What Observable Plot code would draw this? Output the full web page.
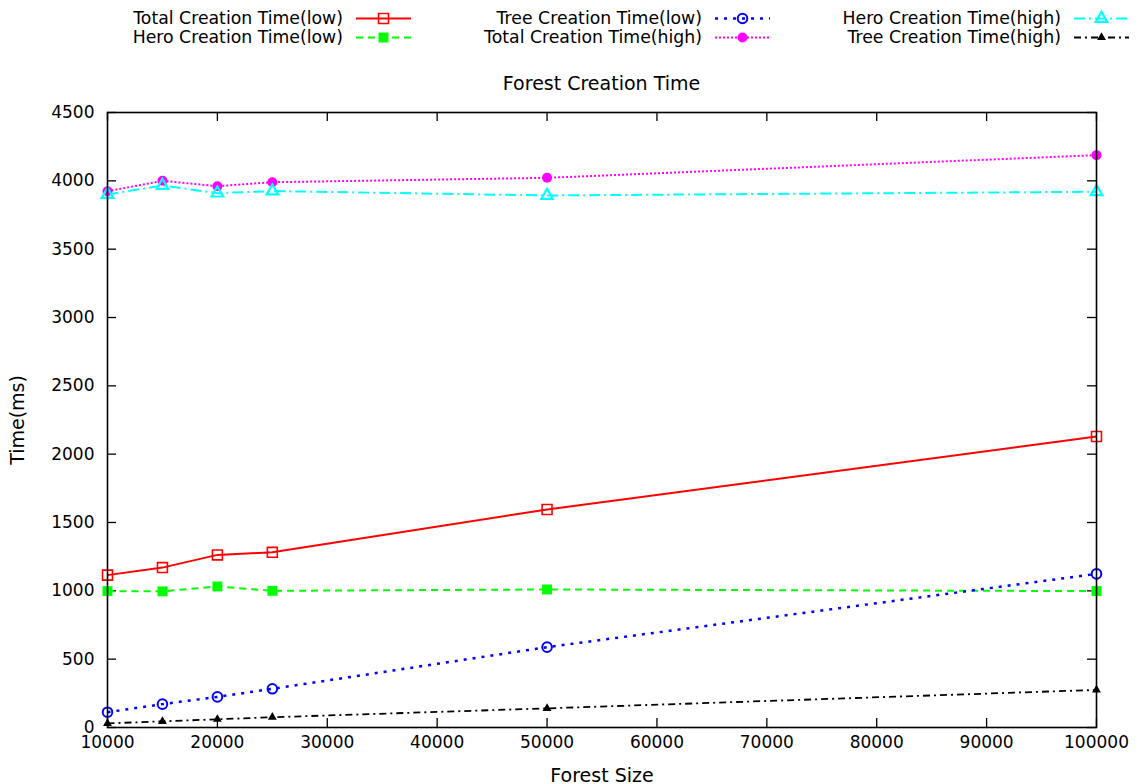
<!DOCTYPE html>
<html><head><meta charset="utf-8">
<script src="https://cdn.jsdelivr.net/npm/d3@7"></script>
<script src="https://cdn.jsdelivr.net/npm/@observablehq/plot@0.6"></script>
<style>
html,body{margin:0;padding:0;background:#fff;overflow:hidden;}
body{width:1138px;height:784px;font-family:"DejaVu Sans",sans-serif;font-size:17.3px;color:#000;}
#legend{display:grid;grid-template-columns:repeat(3,359px);grid-template-rows:repeat(2,19px);grid-auto-flow:column;margin-left:52px;padding-top:9px;height:38px;}
.item{display:flex;justify-content:flex-end;align-items:center;height:19px;line-height:19px;white-space:nowrap;}
.item svg{margin-left:13px;display:block;}
#title{margin-top:27px;height:19px;line-height:19px;font-size:19px;text-align:center;padding-left:107px;padding-right:42px;}
#chart svg{display:block;}
</style></head><body>
<div id="legend"></div>
<div id="title">Forest Creation Time</div>
<div id="chart"></div>
<script>
// ---- data ----
const forestSize = [10000, 15000, 20000, 25000, 50000, 100000];
const totalLow  = [1115, 1170, 1263, 1282, 1595, 2129];
const heroLow   = [998, 996, 1032, 1000, 1010, 998];
const treeLow   = [112, 171, 224, 283, 588, 1124];
const totalHigh = [3924, 4000, 3961, 3990, 4022, 4188];
const heroHigh  = [3900, 3966, 3910, 3925, 3893, 3920];
const treeHigh  = [30, 45, 60, 75, 140, 275];
const seriesNames = ["Total Creation Time(low)", "Hero Creation Time(low)", "Tree Creation Time(low)",
                     "Total Creation Time(high)", "Hero Creation Time(high)", "Tree Creation Time(high)"];
const seriesValues = [totalLow, heroLow, treeLow, totalHigh, heroHigh, treeHigh];
const xTicks = [10000, 20000, 30000, 40000, 50000, 60000, 70000, 80000, 90000, 100000];
const yTicks = [0, 500, 1000, 1500, 2000, 2500, 3000, 3500, 4000, 4500];

// ---- styles ----
const styles = [
  {color: "#ff0000", dash: null,        width: 2,   symbol: "square",   r: 5.6, fill: "none",    sw: 1.6},
  {color: "#00ff00", dash: "7,5",       width: 2,   symbol: "square",   r: 5.6, fill: "#00ff00", sw: 0},
  {color: "#0000ff", dash: "3,6",       width: 2.5, symbol: "circle",   r: 4.8, fill: "none",    sw: 2},
  {color: "#ff00ff", dash: "2,2",       width: 2,   symbol: "circle",   r: 5,   fill: "#ff00ff", sw: 0},
  {color: "#00ffff", dash: "11,4,2,4",  width: 2,   symbol: "triangle", r: 4.3, fill: "none",    sw: 2.2},
  {color: "#000000", dash: "7,4,2,4",   width: 1.8, symbol: "triangle", r: 3.3, fill: "#000000", sw: 0}
];

const rows = [];
seriesNames.forEach((name, i) => {
  forestSize.forEach((x, j) => rows.push({series: name, idx: i, x, y: seriesValues[i][j]}));
});

// ---- legend ----
const symTypes = {square: d3.symbolSquare, circle: d3.symbolCircle, triangle: d3.symbolTriangle};
const legend = d3.select("#legend");
seriesNames.forEach((name, i) => {
  const s = styles[i];
  const item = legend.append("div").attr("class", "item");
  item.append("span").text(name);
  const svg = item.append("svg").attr("width", 55).attr("height", 19);
  svg.append("line").attr("x1", 0).attr("x2", 55).attr("y1", 9.5).attr("y2", 9.5)
    .attr("stroke", s.color).attr("stroke-width", s.width)
    .attr("stroke-dasharray", s.dash);
  svg.append("path").attr("transform", "translate(27.5,9.5)")
    .attr("d", d3.symbol(symTypes[s.symbol], Math.PI * s.r * s.r)())
    .attr("fill", s.fill === "none" ? "none" : s.fill)
    .attr("stroke", s.sw ? s.color : "none").attr("stroke-width", s.sw);
});

// ---- chart ----
const W = 1138, H = 691, mT = 19, mB = 57, mL = 107, mR = 42;
const innerW = W - mL - mR, innerH = H - mT - mB, tickLen = 9;

const marks = [
  Plot.gridX(xTicks, {stroke: "black", strokeOpacity: 1, strokeWidth: 1.3, insetTop: innerH - tickLen}),
  Plot.gridX(xTicks, {stroke: "black", strokeOpacity: 1, strokeWidth: 1.3, insetBottom: innerH - tickLen}),
  Plot.gridY(yTicks, {stroke: "black", strokeOpacity: 1, strokeWidth: 1.3, insetRight: innerW - tickLen}),
  Plot.gridY(yTicks, {stroke: "black", strokeOpacity: 1, strokeWidth: 1.3, insetLeft: innerW - tickLen}),
  Plot.axisX({ticks: xTicks, tickSize: 0, tickPadding: 8, tickFormat: d => String(d), label: null}),
  Plot.axisY({ticks: yTicks, tickSize: 0, tickPadding: 13, tickFormat: d => String(d), label: null}),
  Plot.axisX({ticks: [], tickSize: 0, fontSize: 19,
              label: "Forest Size", labelAnchor: "center", labelOffset: 54, labelArrow: "none"}),
  Plot.axisY({ticks: [], tickSize: 0, fontSize: 19,
              label: "Time(ms)", labelAnchor: "center", labelOffset: 97.5, labelArrow: "none"})
];
styles.forEach((s, i) => {
  const data = rows.filter(d => d.idx === i);
  marks.push(Plot.line(data, {x: "x", y: "y", stroke: s.color, strokeWidth: s.width,
                              strokeDasharray: s.dash, strokeLinecap: "butt"}));
});
styles.forEach((s, i) => {
  const data = rows.filter(d => d.idx === i);
  marks.push(Plot.dot(data, {x: "x", y: "y", symbol: s.symbol, r: s.r,
                             fill: s.fill, stroke: s.sw ? s.color : "none", strokeWidth: s.sw}));
});
marks.push(Plot.frame({stroke: "black", strokeWidth: 1.6}));

const chart = Plot.plot({
  width: W, height: H,
  marginTop: mT, marginBottom: mB, marginLeft: mL, marginRight: mR,
  style: {fontFamily: "DejaVu Sans", fontSize: "17px", color: "black", background: "white", overflow: "visible"},
  x: {type: "linear", domain: [10000, 100000]},
  y: {type: "linear", domain: [0, 4500]},
  marks
});
document.getElementById("chart").appendChild(chart);
</script>
</body></html>
